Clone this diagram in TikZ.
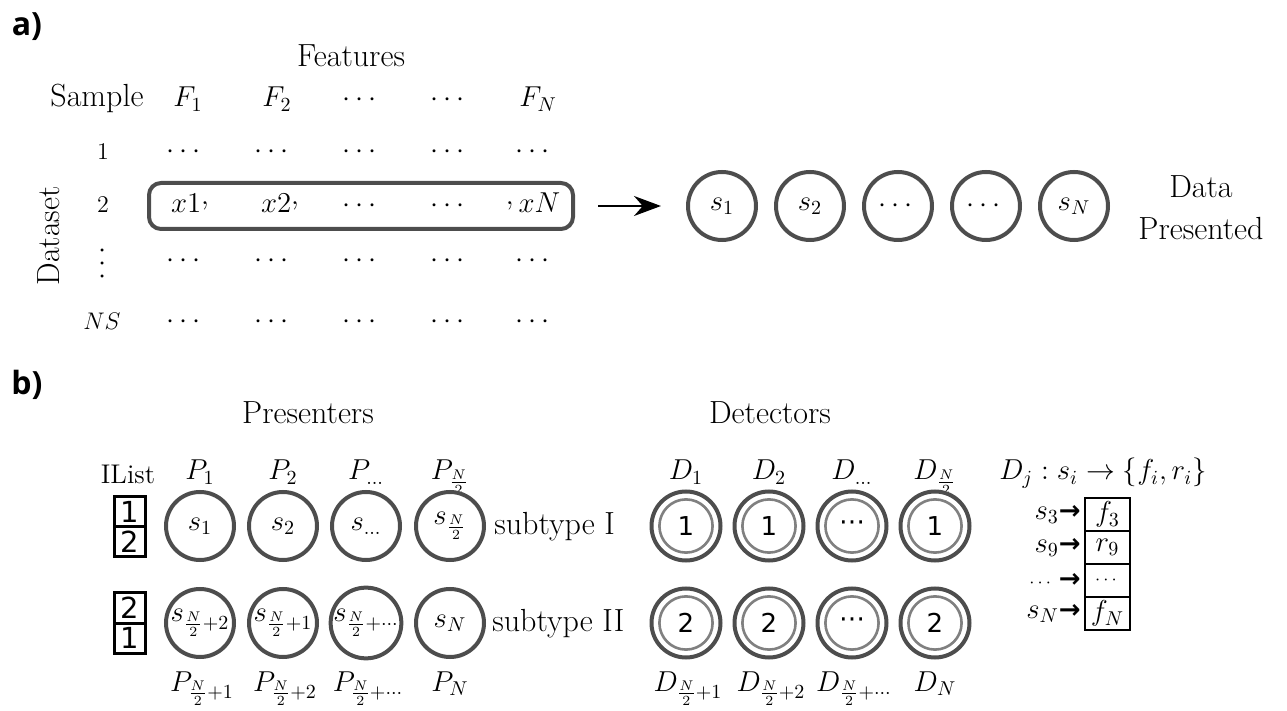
\documentclass[tikz,border=0pt]{standalone}
\usepackage{fontspec}
\usepackage{amsmath}
\usetikzlibrary{arrows.meta}
\newfontfamily\dejavu{DejaVu Sans}
\newfontfamily\labfont{Open Sans}
\definecolor{cgray}{HTML}{4D4D4D}
\definecolor{igray}{HTML}{808080}
\newcommand{\fbig}{\fontsize{16}{19}\selectfont}
\newcommand{\fmid}{\fontsize{14.4}{17}\selectfont}
\newcommand{\ftxt}{\fontsize{13.5}{16}\selectfont}
\newcommand{\fsml}{\fontsize{12}{14}\selectfont}
\newcommand{\rcomma}{\raisebox{0.7ex}{,}}
\tikzset{
  lab/.style={font=\labfont\bfseries\fontsize{16}{19}\selectfont, inner sep=0pt},
  big/.style={font=\fbig, inner sep=0pt},
  mid/.style={font=\fmid, inner sep=0pt},
  sml/.style={font=\fsml, inner sep=0pt},
  scirc/.style={circle, draw=cgray, line width=2pt, minimum size=34pt, inner sep=0pt, font=\fmid},
  dcirc/.style={circle, draw=cgray, line width=2pt, minimum size=34.5pt, inner sep=0pt,
    font=\dejavu\fontsize{13}{15}\selectfont,
    path picture={\draw[igray, line width=1.3pt] (path picture bounding box.center) circle (13.3pt);}},
  rbox/.style={draw=cgray, line width=2pt, rounded corners=6pt, minimum width=212pt, minimum height=23pt, inner sep=0pt},
  icell/.style={draw=black, line width=1.5pt, minimum width=15.5pt, minimum height=15pt, inner sep=0pt,
    font=\dejavu\fontsize{14.5}{16}\selectfont},
  tcell/.style={draw=black, line width=1.2pt, minimum width=22.5pt, minimum height=16.5pt, inner sep=0pt, font=\fmid},
  arr/.style={-{Stealth[length=13.5pt,width=10pt]}, line width=1pt, black},
}
\begin{document}
\begin{tikzpicture}[x=0.5pt,y=-0.5pt]
\useasboundingbox (0,0) rectangle (1287,711);
% ---------- a) ----------
\node[lab] (la) at (27,27) {a)};
\node[big, anchor=base] (feat) at (351,67) {Features};
\node[big, anchor=base] (sample) at (97,107) {Sample};
\node[mid, anchor=base] (f1) at (188,107) {$F_1$};
\node[mid, anchor=base] (f2) at (277,107) {$F_2$};
\node[mid, anchor=base] (f3) at (362,107) {$\cdots$};
\node[mid, anchor=base] (f4) at (450,107) {$\cdots$};
\node[mid, anchor=base] (f5) at (538,107) {$F_N$};
\node[big, anchor=base, rotate=90] (dataset) at (60,236) {Dataset};
% row 1
\node[sml, anchor=base] (r1) at (103,160) {1};
\foreach \x [count=\i] in {186,274,362,450,535}
  \node[mid, anchor=base] (ra\i) at (\x,159) {$\cdots$};
% row 2
\node[sml, anchor=base] (r2) at (103,213) {2};
\node[rbox] (box) at (361,206) {};
\node[mid, anchor=base] (x1) at (190,213) {$x1$\rcomma};
\node[mid, anchor=base] (x2) at (280,213) {$x2$\rcomma};
\node[mid, anchor=base] (x3) at (362,213) {$\cdots$};
\node[mid, anchor=base] (x4) at (450,213) {$\cdots$};
\node[mid, anchor=base] (x5) at (533,213) {\rcomma$\,xN$};
% row vdots
\node[mid, rotate=90] (r3) at (103,261) {$\cdots$};
\foreach \x [count=\i] in {186,274,362,450,535}
  \node[mid, anchor=base] (rc\i) at (\x,268) {$\cdots$};
% row NS
\node[sml, anchor=base] (r4) at (102,330) {$NS$};
\foreach \x [count=\i] in {186,274,362,450,535}
  \node[mid, anchor=base] (rd\i) at (\x,329) {$\cdots$};
% presented circles
\node[scirc] (c1) at (722,206) {$s_1$};
\node[scirc] (c2) at (810,206) {$s_2$};
\node[scirc] (c3) at (898,206) {$\cdots$};
\node[scirc] (c4) at (986,206) {$\cdots$};
\node[scirc] (c5) at (1074,206) {$s_N$};
\draw[arr, shorten <=11.5pt, shorten >=12.5pt] (box.east) -- (c1.west);
\node[big, align=center] (dp) at (1201,208) {Data\\[2pt]Presented};
% ---------- b) ----------
\node[lab] (lb) at (27,385) {b)};
\node[big] (pres) at (308,413) {Presenters};
\node[big] (det) at (770,413) {Detectors};
\node[inner sep=0pt, font=\ftxt, anchor=base] (ilist) at (128,484) {IList};
\node[icell] (i11) at (129.5,512) {1};
\node[icell] (i12) at (129.5,542) {2};
\node[icell] (i21) at (129.5,608) {2};
\node[icell] (i22) at (129.5,638) {1};
% presenter labels
\node[mid, anchor=base] (pt1) at (200,480) {$P_1$};
\node[mid, anchor=base] (pt2) at (283,480) {$P_2$};
\node[mid, anchor=base] (pt3) at (366,480) {$P_{\dots}$};
\node[mid, anchor=base] (pt4) at (450,480) {$P_{\frac{N}{2}}$};
\node[scirc] (p1) at (200,526) {$s_1$};
\node[scirc] (p2) at (283,526) {$s_2$};
\node[scirc] (p3) at (366,526) {$s_{\dots}$};
\node[scirc] (p4) at (450,526) {$s_{\frac{N}{2}}$};
\node[scirc] (q1) at (200,623) {$s_{\frac{N}{2}+2}$};
\node[scirc] (q2) at (283,623) {$s_{\frac{N}{2}+1}$};
\node[scirc] (q3) at (366,623) {$s_{\frac{N}{2}+\cdots}$};
\node[scirc] (q4) at (450,623) {$s_N$};
\node[mid, anchor=base] (pb1) at (202,691) {$P_{\frac{N}{2}+1}$};
\node[mid, anchor=base] (pb2) at (285,691) {$P_{\frac{N}{2}+2}$};
\node[mid, anchor=base] (pb3) at (368,691) {$P_{\frac{N}{2}+\cdots}$};
\node[mid, anchor=base] (pb4) at (450,691) {$P_N$};
\node[big, anchor=base west] (st1) at (494,535) {subtype I};
\node[big, anchor=base west] (st2) at (492,632) {subtype II};
% detectors
\node[mid, anchor=base] (dt1) at (686,480) {$D_1$};
\node[mid, anchor=base] (dt2) at (769,480) {$D_2$};
\node[mid, anchor=base] (dt3) at (852,480) {$D_{\dots}$};
\node[mid, anchor=base] (dt4) at (935,480) {$D_{\frac{N}{2}}$};
\node[dcirc] (d1) at (686,526) {1};
\node[dcirc] (d2) at (769,526) {1};
\node[dcirc] (d3) at (852,526) {⋯};
\node[dcirc] (d4) at (935,526) {1};
\node[dcirc] (e1) at (686,623) {2};
\node[dcirc] (e2) at (769,623) {2};
\node[dcirc] (e3) at (852,623) {⋯};
\node[dcirc] (e4) at (935,623) {2};
\node[mid, anchor=base] (db1) at (688,691) {$D_{\frac{N}{2}+1}$};
\node[mid, anchor=base] (db2) at (771,691) {$D_{\frac{N}{2}+2}$};
\node[mid, anchor=base] (db3) at (854,691) {$D_{\frac{N}{2}+\cdots}$};
\node[mid, anchor=base] (db4) at (935,691) {$D_N$};
% mapping
\node[mid, anchor=base] (map) at (1103,480) {$D_j : s_i \rightarrow \{f_i, r_i\}$};
\node[tcell] (t1) at (1107.5,514.5) {$f_3$};
\node[tcell] (t2) at (1107.5,547.5) {$r_9$};
\node[tcell] (t3) at (1107.5,580.5) {\fontsize{9}{10}\selectfont$\cdots$};
\node[tcell] (t4) at (1107.5,613.5) {$f_N$};
\node[mid, anchor=east] (l1) at (1081,514.5) {$s_3${\dejavu\bfseries\fontsize{13}{15}\selectfont →}};
\node[mid, anchor=east] (l2) at (1081,547.5) {$s_9${\dejavu\bfseries\fontsize{13}{15}\selectfont →}};
\node[mid, anchor=east] (l3) at (1081,580.5) {{\fontsize{9}{10}\selectfont$\cdots$}\,{\dejavu\bfseries\fontsize{13}{15}\selectfont →}};
\node[mid, anchor=east] (l4) at (1081,613.5) {$s_N${\dejavu\bfseries\fontsize{13}{15}\selectfont →}};
\end{tikzpicture}
\end{document}
